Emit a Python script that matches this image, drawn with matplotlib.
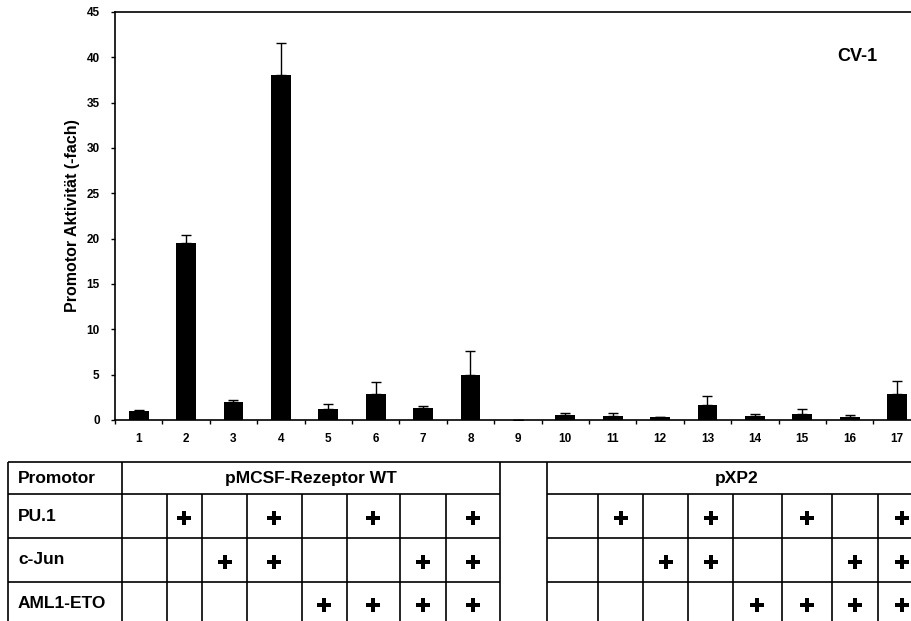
import matplotlib.pyplot as plt
import numpy as np

plt.rcParams['font.family'] = ['Liberation Sans', 'DejaVu Sans']
plt.rcParams['font.weight'] = 'bold'

# Promotor activity (fold) for the 17 transfections, with upper error
lanes = list(range(1, 18))
activity = [1.0, 19.5, 2.0, 38.1, 1.2, 2.9, 1.3, 5.0, 0.0,
            0.55, 0.45, 0.3, 1.65, 0.45, 0.65, 0.35, 2.85]
error = [0.05, 0.9, 0.2, 3.5, 0.55, 1.25, 0.2, 2.6, 0.0,
         0.2, 0.3, 0.0, 1.05, 0.2, 0.6, 0.15, 1.5]

# cotransfected factors per lane (lane 9 is the empty spacer column)
row_names = ['PU.1', 'c-Jun', 'AML1-ETO']
pu1 = [0, 1, 0, 1, 0, 1, 0, 1, None, 0, 1, 0, 1, 0, 1, 0, 1]
cjun = [0, 0, 1, 1, 0, 0, 1, 1, None, 0, 0, 1, 1, 0, 0, 1, 1]
aml1eto = [0, 0, 0, 0, 1, 1, 1, 1, None, 0, 0, 0, 0, 1, 1, 1, 1]
groups = ['pMCSF-Rezeptor WT', 'pXP2']

W, H = 912, 621
fig = plt.figure(figsize=(W / 100, H / 100), dpi=100)

# bar chart
ax = fig.add_axes([115 / W, (H - 420) / H, (W - 115) / W, 408 / H])
ax.bar(lanes, activity, width=0.42, color='black', zorder=2)
ax.errorbar(lanes, activity, yerr=[np.zeros(len(error)), error], fmt='none',
            ecolor='black', elinewidth=1, capsize=3.5, capthick=1, zorder=3)
ax.set_xlim(0.5, 0.5 + (W - 115) / 47.4)
ax.set_ylim(0, 45)
ax.set_yticks(range(0, 46, 5))
ax.set_xticks(lanes)
ax.set_xticks(np.arange(0.5, 17, 1), minor=True)
ax.tick_params(axis='x', which='major', length=0, pad=9, labelsize=8.5)
ax.tick_params(axis='x', which='minor', length=3, width=1, direction='out')
ax.tick_params(axis='y', length=3, width=1, pad=8, labelsize=8.5)
for side in ['left', 'bottom', 'top']:
    ax.spines[side].set_linewidth(1.2)
ax.spines['right'].set_visible(False)
ax.set_ylabel('Promotor Aktivität (-fach)', fontsize=11.5, fontweight='bold', labelpad=5)
ax.text(0.931, 0.89, 'CV-1', transform=ax.transAxes, fontsize=13,
        fontweight='bold', ha='center', va='center')

# condition table underneath, laid out in pixel coordinates
tab = fig.add_axes([0, 0, 1, 1])
tab.set_xlim(0, W)
tab.set_ylim(H, 0)
tab.axis('off')

left, label_edge = 8, 121.7
cols1 = [121.7, 166.7, 202.3, 247.3, 301.7, 346.7, 400, 446, 500]
cols2 = [547.3, 598.3, 643.3, 688.3, 733.3, 781.7, 832.3, 877.7, 926]
rows = [462, 494.3, 538.3, 581.7, 625]
lw = 1.2

tab.hlines(rows[0], left, W, color='black', lw=lw)
for y in rows[1:4]:
    tab.hlines(y, left, cols1[-1], color='black', lw=lw)
    tab.hlines(y, cols2[0], W, color='black', lw=lw)
for x in [left, label_edge, cols1[-1], cols2[0]]:
    tab.vlines(x, rows[0], rows[-1], color='black', lw=lw)
for x in cols1[1:-1] + cols2[1:-1]:
    tab.vlines(x, rows[1], rows[-1], color='black', lw=lw)

txt = dict(fontsize=12.5, fontweight='bold', va='center')
tab.text(18, (rows[0] + rows[1]) / 2, 'Promotor', ha='left', **txt)
tab.text((cols1[0] + cols1[-1]) / 2, (rows[0] + rows[1]) / 2, groups[0], ha='center', **txt)
tab.text((cols2[0] + cols2[-1]) / 2, (rows[0] + rows[1]) / 2, groups[1], ha='center', **txt)

centers = [(a + b) / 2 for a, b in zip(cols1[:-1], cols1[1:])] + [None] + \
          [(a + b) / 2 for a, b in zip(cols2[:-1], cols2[1:])]
for r, (name, flags) in enumerate(zip(row_names, [pu1, cjun, aml1eto])):
    yc = (rows[r + 1] + rows[r + 2]) / 2
    tab.text(18, yc, name, ha='left', **txt)
    px = [xc for xc, f in zip(centers, flags) if f]
    tab.plot(px, [yc + 2] * len(px), linestyle='none', marker='P',
             markersize=10, color='black', markeredgewidth=0)

fig.savefig('out.png', dpi=100)
